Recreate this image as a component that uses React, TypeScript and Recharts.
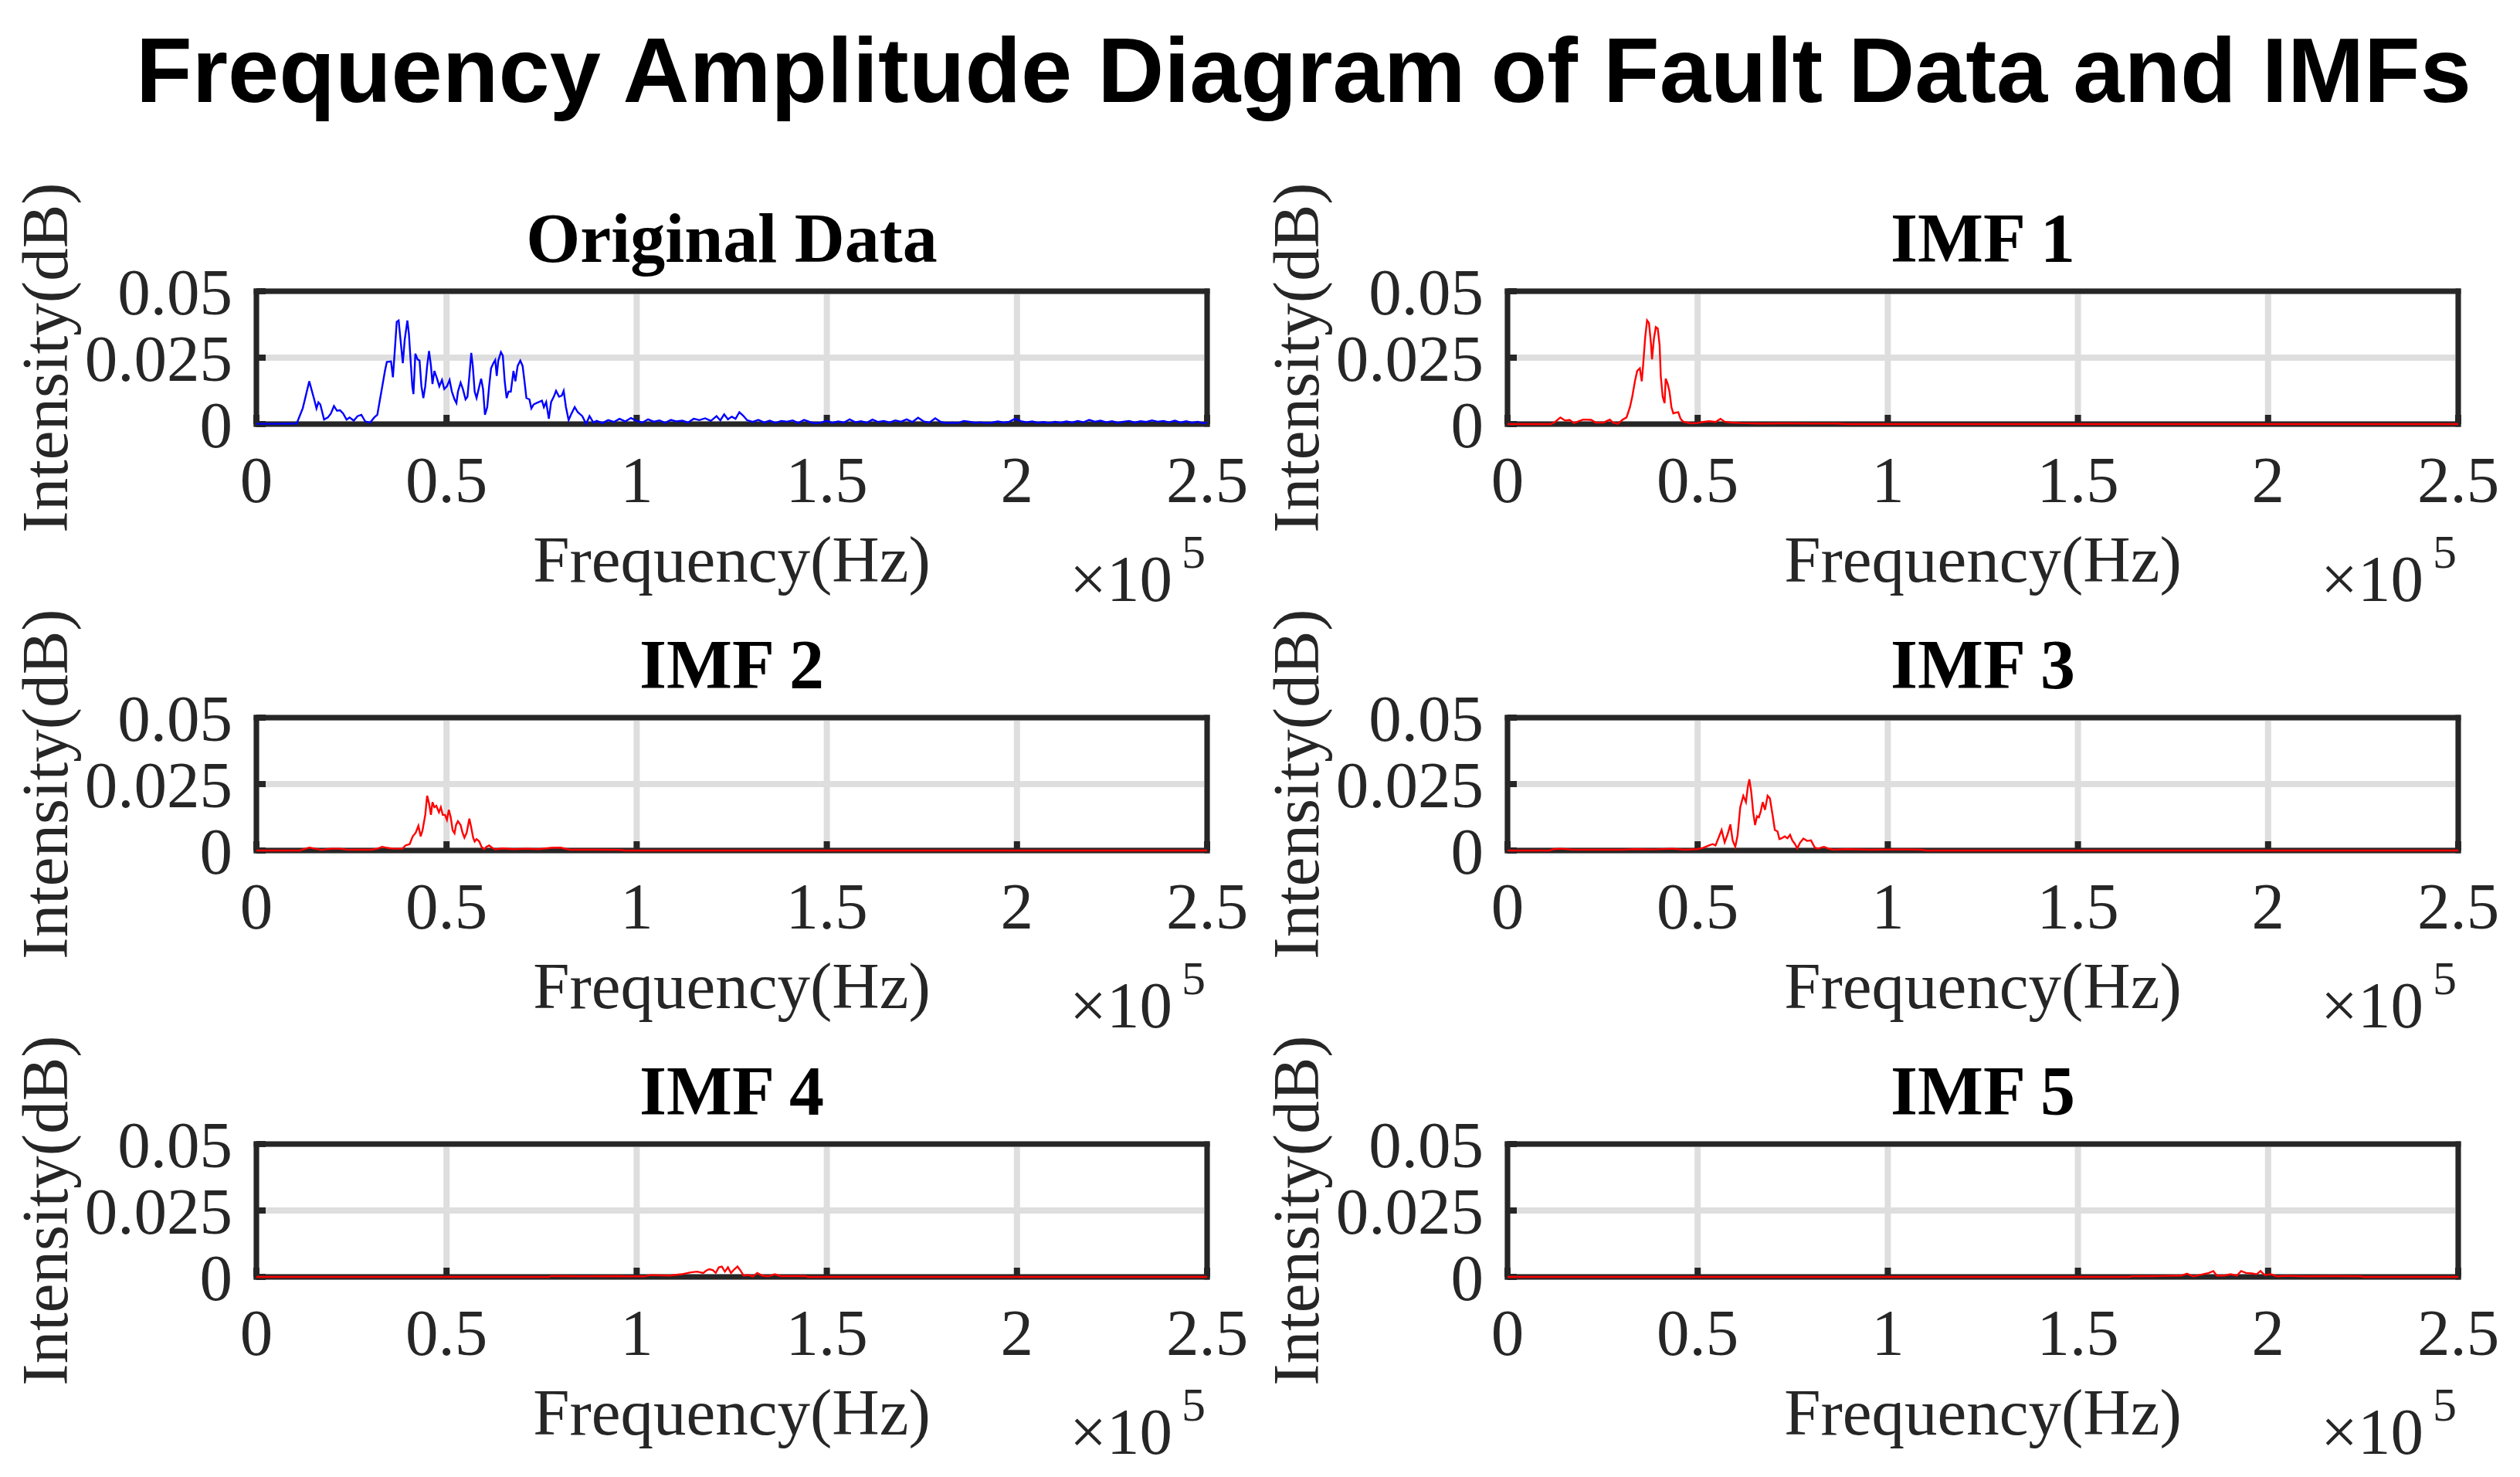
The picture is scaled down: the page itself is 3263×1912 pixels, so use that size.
import React from "react";
import { LineChart, Line, XAxis, YAxis, CartesianGrid, Label } from "recharts";

// spectra: [frequency in kHz, intensity]
const originalData: [number, number][] = [
  [0, 0.0001], [5, 0.0001], [10.6, 0.0002], [12.2, 0.006], [13.9, 0.0161], [15.2, 0.0093], [15.8, 0.0059],
  [16.3, 0.0082], [16.8, 0.0074], [17.8, 0.0017], [18.8, 0.0025], [19.6, 0.004], [20.4, 0.0068], [21.2, 0.005],
  [22.0, 0.0052], [22.8, 0.004], [23.7, 0.0017], [24.5, 0.0025], [25.6, 0.0013], [26.6, 0.003], [27.6, 0.0035],
  [28.6, 0.001], [29.9, 0.0006], [31.0, 0.0025], [31.8, 0.0035], [32.5, 0.0093], [33.1, 0.0142], [33.8, 0.02],
  [34.3, 0.0234], [35.4, 0.0236], [35.9, 0.0176], [36.4, 0.0278], [36.9, 0.0385], [37.4, 0.039], [37.9, 0.0317],
  [38.5, 0.0229], [39.0, 0.0317], [39.7, 0.039], [40.1, 0.034], [40.6, 0.0229], [41.0, 0.0142], [41.3, 0.0113],
  [41.8, 0.0265], [42.4, 0.0243], [42.9, 0.0239], [43.4, 0.0142], [43.9, 0.0098], [44.4, 0.0142], [44.9, 0.0219],
  [45.4, 0.0275], [45.9, 0.0219], [46.3, 0.0151], [46.8, 0.02], [47.5, 0.0171], [48.1, 0.0142], [48.8, 0.0166],
  [49.4, 0.0132], [50.1, 0.0142], [50.8, 0.0166], [51.4, 0.0122], [52.1, 0.0093], [52.6, 0.0079], [53.0, 0.0122],
  [53.7, 0.0156], [54.3, 0.0132], [55.0, 0.0093], [55.5, 0.0103], [56.0, 0.0181], [56.5, 0.0268], [56.9, 0.0219],
  [57.4, 0.0122], [57.9, 0.0098], [58.6, 0.0142], [59.1, 0.0171], [59.6, 0.0132], [60.1, 0.0035], [60.7, 0.0064],
  [61.2, 0.0142], [61.7, 0.021], [62.3, 0.0229], [62.8, 0.0241], [63.2, 0.0181], [63.6, 0.0239], [64.3, 0.0271],
  [64.8, 0.0258], [65.3, 0.0161], [65.8, 0.0098], [66.3, 0.0122], [66.9, 0.0122], [67.6, 0.02], [68.1, 0.0161],
  [68.7, 0.0219], [69.4, 0.0239], [70.0, 0.0219], [70.5, 0.0161], [71.0, 0.0098], [71.8, 0.0093], [72.3, 0.0059],
  [72.9, 0.0074], [73.6, 0.0079], [74.3, 0.0083], [75.1, 0.0088], [75.6, 0.0064], [76.2, 0.0083], [76.9, 0.002],
  [77.5, 0.0083], [78.2, 0.0103], [78.8, 0.0125], [79.6, 0.0103], [80.3, 0.0107], [80.8, 0.0125], [81.4, 0.0064],
  [82.1, 0.0015], [82.7, 0.0035], [83.7, 0.0064], [84.5, 0.0045], [85.7, 0.003], [86.7, 0.0001], [87.6, 0.003],
  [88.6, 0.0006], [89.5, 0.0012], [91, 0.0004], [92.5, 0.0015], [94, 0.0008], [95.5, 0.002], [97, 0.001],
  [98.5, 0.0023], [100, 0.0012], [101.5, 0.0006], [103, 0.0018], [104.5, 0.0009], [106, 0.0014], [107.5, 0.0005],
  [109, 0.0016], [110.5, 0.001], [112, 0.0013], [113.5, 0.0006], [115, 0.002], [116.5, 0.0015], [118, 0.0022],
  [119.5, 0.0012], [121, 0.003], [122, 0.0014], [123, 0.0037], [124, 0.0018], [125, 0.0028], [126, 0.002],
  [127, 0.0045], [128, 0.0032], [129, 0.0015], [130.5, 0.0008], [132, 0.0016], [133.5, 0.0006], [135, 0.0013],
  [136.5, 0.0005], [138, 0.0012], [139.5, 0.0009], [141, 0.0014], [142.5, 0.0004], [144, 0.0016], [145.5, 0.0008],
  [147, 0.0003], [148.5, 0.0006], [150, 0.0012], [151.5, 0.0005], [153, 0.001], [154.5, 0.0006], [156, 0.0018],
  [157.5, 0.0007], [159, 0.0011], [160.5, 0.0005], [162, 0.0017], [163.5, 0.0008], [165, 0.0012], [166.5, 0.0006],
  [168, 0.0014], [169.5, 0.0009], [171, 0.0018], [172.5, 0.0008], [174, 0.0024], [175.5, 0.001], [177, 0.0006],
  [178.5, 0.0022], [180, 0.0008], [181.5, 0.0004], [183, 0.0006], [184.5, 0.0004], [186, 0.0012], [187.5, 0.0009],
  [189, 0.0005], [190.5, 0.0007], [192, 0.0004], [193.5, 0.0006], [195, 0.001], [196.5, 0.0006], [198, 0.0009],
  [199.5, 0.002], [201, 0.0011], [202.5, 0.0007], [204, 0.001], [205.5, 0.0005], [207, 0.0008], [208.5, 0.0004],
  [210, 0.0009], [211.5, 0.0005], [213, 0.001], [214.5, 0.0006], [216, 0.0012], [217.5, 0.0007], [219, 0.0016],
  [220.5, 0.0009], [222, 0.0013], [223.5, 0.0007], [225, 0.0011], [226.5, 0.0005], [228, 0.0009], [229.5, 0.0012],
  [231, 0.0006], [232.5, 0.0011], [234, 0.0008], [235.5, 0.0014], [237, 0.0009], [238.5, 0.0012], [240, 0.0007],
  [241.5, 0.0013], [243, 0.0006], [244.5, 0.0011], [246, 0.0005], [247.5, 0.0009], [249, 0.0003], [250, 0.0006],
];

const imf1Data: [number, number][] = [
  [0, 0], [11.4, 0], [12.5, 0.0008], [13.9, 0.0025], [15.2, 0.0013], [16.3, 0.0016], [17.5, 0.0004], [18.8, 0.0011],
  [19.9, 0.0017], [22.0, 0.0016], [23.2, 0.0006], [25.3, 0.0006], [26.9, 0.0017], [27.7, 0.0006], [29.0, 0.0001],
  [30.2, 0.0016], [31.3, 0.0025], [32.2, 0.0064], [32.8, 0.0103], [33.5, 0.0161], [34.1, 0.02], [34.8, 0.021],
  [35.3, 0.0161], [35.7, 0.0229], [36.2, 0.0326], [36.7, 0.039], [37.2, 0.038], [37.7, 0.0307], [38.0, 0.0244],
  [38.5, 0.0322], [39.0, 0.0365], [39.5, 0.036], [40.0, 0.0297], [40.3, 0.0181], [40.8, 0.0103], [41.3, 0.0079],
  [41.6, 0.0171], [42.1, 0.0152], [42.6, 0.0122], [43.1, 0.0064], [43.6, 0.004], [44.2, 0.0043], [44.9, 0.0045],
  [45.5, 0.002], [46.2, 0.0009], [48.1, 0.0003], [49.8, 0.0004], [51.4, 0.0008], [53.0, 0.0011], [54.7, 0.0008],
  [56.0, 0.002], [57.1, 0.0009], [58.8, 0.0006], [61.2, 0.0004], [66.1, 0.0002], [72.6, 0.0003], [79.2, 0.0002],
  [86.5, 0.0002], [89.0, 0], [250, 0],
];

const imf2Data: [number, number][] = [
  [0, 0], [11.4, 0], [13.9, 0.0011], [15.5, 0.0007], [17.1, 0.0002], [19.6, 0.0007], [22.0, 0.0007], [23.7, 0.0003],
  [30.2, 0.0003], [31.8, 0.0007], [33.1, 0.0014], [34.3, 0.001], [35.9, 0.0007], [38.4, 0.0007], [39.2, 0.0019],
  [40.3, 0.0024], [41.1, 0.0053], [41.9, 0.0067], [42.6, 0.0093], [43.2, 0.0053], [43.7, 0.0077], [44.4, 0.0134],
  [44.9, 0.0206], [45.4, 0.0177], [45.9, 0.0134], [46.3, 0.0182], [46.8, 0.0163], [47.3, 0.0168], [48.0, 0.0144],
  [48.5, 0.0163], [49.0, 0.0134], [49.6, 0.0134], [50.1, 0.0115], [50.6, 0.0153], [51.1, 0.0125], [51.6, 0.0077],
  [52.1, 0.0065], [52.5, 0.0096], [53.0, 0.011], [53.7, 0.0096], [54.2, 0.0067], [54.7, 0.0048], [55.3, 0.0067],
  [56.0, 0.012], [56.5, 0.0086], [57.0, 0.0048], [57.4, 0.0034], [57.9, 0.0043], [58.6, 0.0034], [59.2, 0.0014],
  [59.9, 0.0005], [60.5, 0.0014], [61.2, 0.0019], [62.0, 0.001], [62.8, 0.0004], [64.5, 0.0008], [67.7, 0.0005],
  [71.0, 0.0007], [74.3, 0.0005], [77.5, 0.001], [80.0, 0.0011], [82.4, 0.0003], [88.9, 0.0003], [95.5, 0.0002],
  [97, 0], [250, 0],
];

const imf3Data: [number, number][] = [
  [0, 0], [11, 0], [12.2, 0.0005], [13.9, 0.0007], [17.1, 0.0003], [30.2, 0.0003], [33.5, 0.0005], [38.4, 0.0004],
  [43.2, 0.0007], [46.5, 0.0003], [49.8, 0.0005], [51.4, 0.001], [53.0, 0.0019], [53.9, 0.0024], [54.7, 0.0019],
  [55.5, 0.0048], [56.3, 0.0077], [57.1, 0.0031], [57.9, 0.0062], [58.6, 0.0098], [59.2, 0.0038], [59.9, 0.0014],
  [60.5, 0.0057], [61.2, 0.0163], [62.0, 0.0206], [62.7, 0.0182], [63.2, 0.024], [63.6, 0.0268], [64.1, 0.022],
  [64.6, 0.0144], [65.1, 0.0096], [65.6, 0.0129], [66.1, 0.0125], [66.6, 0.0148], [67.1, 0.0182], [67.7, 0.0153],
  [68.4, 0.0206], [69.0, 0.0196], [69.7, 0.0134], [70.3, 0.0077], [71.0, 0.0072], [71.5, 0.0043], [72.1, 0.0046],
  [72.9, 0.0053], [73.6, 0.0046], [74.3, 0.0059], [74.9, 0.0038], [75.6, 0.0024], [76.2, 0.0008], [76.9, 0.0029],
  [77.8, 0.0045], [78.8, 0.0036], [79.8, 0.0038], [80.8, 0.0011], [81.6, 0.0007], [83.2, 0.0014], [84.4, 0.0007],
  [85.7, 0.0003], [88.9, 0.0005], [95.5, 0.0003], [103.6, 0.0004], [108.5, 0.0003], [110.2, 0], [250, 0],
];

const imf4Data: [number, number][] = [
  [0, 0], [77, 0], [77.5, 0.0003], [85, 0.0002], [95.5, 0.0003], [97.1, 0.0002], [102, 0.0002], [103.6, 0.0007],
  [108.5, 0.0005], [111.8, 0.001], [114.2, 0.0017], [115.9, 0.002], [117.5, 0.0015], [118.3, 0.0024], [119.1, 0.0029],
  [120.0, 0.0026], [120.8, 0.0015], [121.6, 0.0036], [122.4, 0.0039], [123.2, 0.002], [124.0, 0.0036], [124.8, 0.0015],
  [125.7, 0.0029], [126.5, 0.0039], [127.3, 0.0024], [128.1, 0.0005], [129.4, 0.0007], [130.6, 0.0002], [131.7, 0.0015],
  [133.0, 0.0005], [134.6, 0.0002], [136.3, 0.001], [137.9, 0.0003], [144.4, 0.0003], [145, 0], [250, 0],
];

const imf5Data: [number, number][] = [
  [0, 0], [163.5, 0], [164, 0.0002], [170.5, 0.0003], [177.1, 0.0005], [178.7, 0.0012], [180.3, 0.0002], [182.8, 0.001],
  [184.4, 0.0015], [185.6, 0.0022], [186.5, 0.0005], [188.5, 0.0005], [190.1, 0.001], [191.8, 0.0005], [192.9, 0.0022],
  [194.2, 0.0015], [195.8, 0.0013], [197, 0.001], [198, 0.0022], [199.1, 0.0007], [200.7, 0.001], [202.4, 0.0002],
  [204.8, 0.0004], [209.7, 0.0002], [217.9, 0.0003], [224.4, 0.0002], [225, 0], [250, 0],
];

const xTicks = [0, 50, 100, 150, 200, 250];
const yTicks = [0, 0.025, 0.05];

const FRAME = "#262626";
const GRID = "#dedede";
const SERIF = '"Liberation Serif", "Times New Roman", Times, serif';
const SANS = '"Liberation Sans", Arial, Helvetica, sans-serif';

const PLOT_W = 1231;
const PLOT_H = 172;
const AXIS_W = 330;
const TOP = 140;
const RIGHT = 60;
const BOTTOM = 250;

const frameLine = { stroke: FRAME, strokeWidth: 7, strokeLinecap: "square" as const };
const tickLine = { stroke: FRAME, strokeWidth: 8 };

function Panel({ title, data, color, left, top }: { title: string; data: [number, number][]; color: string; left: number; top: number }) {
  const rows = data.map(([f, a]) => ({ f, a }));

  const xLabel = (props: any) => {
    const vb = props.viewBox || { x: AXIS_W, y: TOP + PLOT_H, width: PLOT_W };
    const right = vb.x + vb.width;
    return (
      <g fill={FRAME} fontFamily={SERIF}>
        <text x={vb.x + vb.width / 2} y={vb.y + 204} textAnchor="middle" fontSize={85}>Frequency(Hz)</text>
        <text x={right - 178} y={vb.y + 229} fontSize={85}>×10</text>
        <text x={right - 33} y={vb.y + 186} fontSize={62}>5</text>
      </g>
    );
  };

  const titleLabel = (props: any) => {
    const vb = props.viewBox || { x: AXIS_W, y: TOP - 1, width: PLOT_W, height: 1 };
    return (
      <text x={vb.x + vb.width / 2} y={vb.y + vb.height - 38} textAnchor="middle" fontSize={90} fontWeight="bold" fontFamily={SERIF} fill="#000">
        {title}
      </text>
    );
  };

  const yLabel = (props: any) => {
    const vb = props.viewBox || { x: 0, y: TOP, width: AXIS_W, height: PLOT_H };
    const bx = vb.x + vb.width - 245;
    const cy = vb.y + vb.height / 2;
    return (
      <text transform={`translate(${bx},${cy}) rotate(-90)`} textAnchor="middle" fontSize={85} fontFamily={SERIF} fill={FRAME}>
        Intensity(dB)
      </text>
    );
  };

  return (
    <div style={{ position: "absolute", left: left - AXIS_W, top: top - TOP }}>
      <LineChart
        width={AXIS_W + PLOT_W + RIGHT}
        height={TOP + PLOT_H + BOTTOM}
        data={rows}
        margin={{ top: TOP - 1, right: RIGHT - 1, bottom: 0, left: 0 }}
      >
        <CartesianGrid xAxisId="b" yAxisId="l" stroke={GRID} strokeWidth={8} />
        <XAxis
          xAxisId="b"
          dataKey="f"
          type="number"
          domain={[0, 250]}
          ticks={xTicks}
          interval={0}
          height={BOTTOM}
          tickSize={-12}
          tickMargin={53}
          tickFormatter={(v: number) => String(v / 100)}
          axisLine={frameLine}
          tickLine={tickLine}
          tick={{ fill: FRAME, fontSize: 85, fontFamily: SERIF }}
        >
          <Label content={xLabel} />
        </XAxis>
        <XAxis
          xAxisId="t"
          orientation="top"
          dataKey="f"
          type="number"
          domain={[0, 250]}
          ticks={xTicks}
          interval={0}
          height={1}
          tickSize={-12}
          tick={false}
          axisLine={frameLine}
          tickLine={tickLine}
        >
          <Label content={titleLabel} />
        </XAxis>
        <YAxis
          yAxisId="l"
          type="number"
          domain={[0, 0.05]}
          ticks={yTicks}
          interval={0}
          width={AXIS_W}
          tickSize={-12}
          tickMargin={43}
          tickFormatter={(v: number) => String(v)}
          axisLine={frameLine}
          tickLine={tickLine}
          tick={{ fill: FRAME, fontSize: 85, fontFamily: SERIF }}
        >
          <Label content={yLabel} />
        </YAxis>
        <YAxis
          yAxisId="r"
          orientation="right"
          type="number"
          domain={[0, 0.05]}
          ticks={yTicks}
          interval={0}
          width={1}
          tickSize={-12}
          tick={false}
          axisLine={frameLine}
          tickLine={tickLine}
        />
        <Line
          xAxisId="b"
          yAxisId="l"
          dataKey="a"
          type="linear"
          stroke={color}
          strokeWidth={2.4}
          dot={false}
          activeDot={false}
          isAnimationActive={false}
          zIndex={600}
        />
      </LineChart>
    </div>
  );
}

export default function App() {
  return (
    <div style={{ position: "absolute", left: 0, top: 0, width: 3263, height: 1912, background: "#fff", overflow: "hidden" }}>
      <svg width={3263} height={200} style={{ position: "absolute", left: 0, top: 0 }}>
        <text x={1688} y={132} textAnchor="middle" fontSize={119} fontWeight="bold" fontFamily={SANS} fill="#000">
          Frequency Amplitude Diagram of Fault Data and IMFs
        </text>
      </svg>
      <Panel title="Original Data" data={originalData} color="#0000ff" left={332} top={377} />
      <Panel title="IMF 1" data={imf1Data} color="#ff0000" left={1952} top={377} />
      <Panel title="IMF 2" data={imf2Data} color="#ff0000" left={332} top={929} />
      <Panel title="IMF 3" data={imf3Data} color="#ff0000" left={1952} top={929} />
      <Panel title="IMF 4" data={imf4Data} color="#ff0000" left={332} top={1481} />
      <Panel title="IMF 5" data={imf5Data} color="#ff0000" left={1952} top={1481} />
    </div>
  );
}
